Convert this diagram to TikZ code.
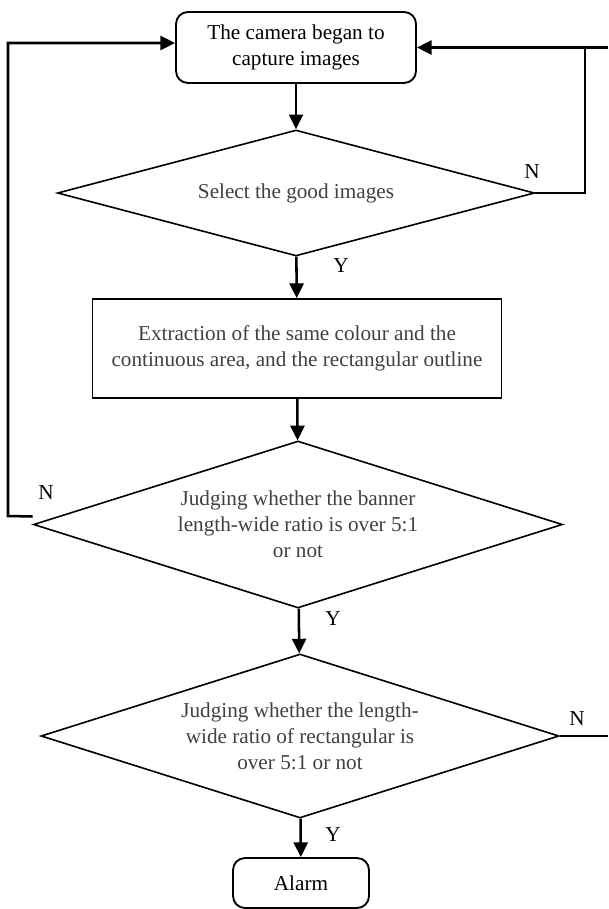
\documentclass[tikz,border=0pt]{standalone}
\usepackage{tikz}
\usepackage{xcolor}
\usepackage{fontspec}
\setmainfont{Liberation Serif}
\usetikzlibrary{shapes.geometric,arrows.meta}
\definecolor{txtgray}{rgb}{0.25,0.25,0.25}

\begin{document}
\begin{tikzpicture}[x=0.75pt,y=0.75pt,yscale=-1,
  font=\fontsize{15.9pt}{19.5pt}\selectfont,
  rbox/.style={draw,line width=1.4pt,rounded corners=9pt,inner sep=0pt,align=center},
  pbox/.style={draw,line width=1.4pt,inner sep=0pt,align=center,text=txtgray},
  dec/.style={draw,diamond,aspect=3.2,line width=1.2pt,inner sep=0pt,align=center,text=txtgray},
  flow/.style={line width=1.9pt,-{Triangle[length=11pt,width=10.5pt]}},
  link/.style={line width=1.9pt},
  yn/.style={inner sep=0pt}]
\useasboundingbox (0,0) rectangle (608,909);

%Rounded Rect
\draw (296,47.5) node [rbox,minimum width=180pt,minimum height=53.25pt] (cam) {The camera began to\\capture images};
%Shape: Diamond
\draw (296,193) node [dec,minimum width=357.75pt,minimum height=94.5pt] (d1) {Select the good images};
%Shape: Rectangle
\draw (297,348.5) node [pbox,minimum width=306.75pt,minimum height=74.25pt] (ext) {Extraction of the same colour and the\\continuous area, and the rectangular outline};
%Shape: Diamond
\draw (298,524.5) node [dec,minimum width=396.75pt,minimum height=125.25pt] (d2) {Judging whether the banner\\length-wide ratio is over 5:1\\or not};
%Shape: Diamond
\draw (300,736) node [dec,minimum width=388.5pt,minimum height=123pt] (d3) {Judging whether the length-\\wide ratio of rectangular is\\over 5:1 or not};
%Rounded Rect
\draw (301,883) node [rbox,minimum width=102pt,minimum height=37.5pt] (alarm) {Alarm};

%Loop points
\coordinate (lp) at (8,516);
\coordinate (lq) at (8,43);
\coordinate (rq) at (585,47.5);
\coordinate (et) at (608,47.5);
\coordinate (eb) at (608,736);

%Straight Lines
\draw [flow] (cam) -- (d1);
\draw [flow] (d1) -- (ext);
\draw [flow] (ext) -- (d2);
\draw [flow] (d2) -- (d3);
\draw [flow] (d3) -- (alarm);
%Straight Lines
\draw [flow] ([yshift=-6pt]d2.west) -- (lp) -- (lq) -- (lq -| cam.west);
\draw [flow] (d1.east) -| (rq) -- (cam.east);
\draw [link] (et) -- (rq);
\draw [link] (d3.east) -- (eb);

% Text Node
\draw (532,172) node [yn] (n1) {N};
% Text Node
\draw (341,266) node [yn] (y1) {Y};
% Text Node
\draw (46,493) node [yn] (n2) {N};
% Text Node
\draw (333,619) node [yn] (y2) {Y};
% Text Node
\draw (577,719) node [yn] (n3) {N};
% Text Node
\draw (333,835) node [yn] (y3) {Y};

\end{tikzpicture}
\end{document}
